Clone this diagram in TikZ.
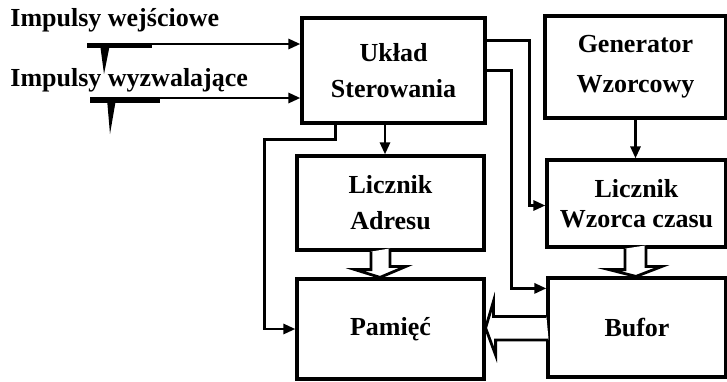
\documentclass[tikz,border=0pt]{standalone}
\usepackage{fontspec}
\setmainfont{Liberation Serif}
\usetikzlibrary{arrows.meta,positioning,calc}

\begin{document}
\begin{tikzpicture}[
    x=0.5pt, y=-0.5pt,
    blok/.style={rectangle, draw, line width=1.6pt, align=center,
                 font=\fontsize{13}{18}\selectfont\bfseries},
    arr/.style={-{Triangle[length=6pt, width=5pt]}, line width=1.4pt},
    hollow/.style={line width=1.4pt, fill=white},
    lbl/.style={anchor=west, inner sep=0pt, font=\fontsize{13}{15}\selectfont\bfseries}
]
\useasboundingbox (0,0) rectangle (727,381);

% Main blocks
\node[blok, minimum width=91.5pt, minimum height=52.5pt] (ster) at (393.5,70.5) {Układ\\Sterowania};
\node[blok, minimum width=90.5pt, minimum height=51pt] (gen) at (635.5,67) {Generator\\[2pt]Wzorcowy};
\node[blok, minimum width=93.5pt, minimum height=47pt] (adr) at (390.5,203) {Licznik\\Adresu};
\node[blok, minimum width=89.5pt, minimum height=43.5pt] (lwc) at (636.5,203.5) {Licznik\\[-3pt]Wzorca czasu};
\node[blok, minimum width=93.5pt, minimum height=50pt] (pam) at (390.5,329) {Pamięć};
\node[blok, minimum width=89pt, minimum height=49.5pt] (buf) at (637,327.5) {Bufor};

% Input labels
\node[lbl] (wej) at (10,20) {Impulsy wejściowe};
\node[lbl] (wyz) at (10,80) {Impulsy wyzwalające};
\coordinate (inA) at (87,44);
\coordinate (inB) at (90,98);

% Pulses
\draw[line width=2pt] (87,46) -- (152,46);
\fill (100,44) -- (110,44) -- (104,74) -- cycle;
\draw[line width=2pt] (90,101) -- (160,101);
\fill (107,99) -- (116,99) -- (110,134) -- cycle;

% Arrows
\coordinate (s1) at ($(ster.south)+(-8.5,0)$);
\coordinate (s2) at ($(ster.south west)+(35,0)$);
\coordinate (s3) at ($(ster.north east)+(0,24)$);
\draw[arr] (inA) -- (inA -| ster.west);
\draw[arr] (inB) -- (inB -| ster.west);
\draw[arr] (s1) -- (s1 |- adr.north);
\draw[arr] (s2) -- ++(0,15) -- ++(-71,0) |- (pam.west);
\draw[arr] (s3) -- ++(43,0) |- ($(lwc.west)+(0,2)$);
\draw[arr] (ster.east) -- ++(25,0) |- ($(buf.north west)+(0,12)$);
\draw[arr] (gen.south) -- (gen.south |- lwc.north);

% Data paths
\draw[hollow] ($(adr.south)+(-19.5,0)$) -- ++(0,18) -- ++(-16,0)
    -- ($(pam.north)+(-10.5,0)$) -- ++(26,-11) -- ++(-16,0) -- ++(0,-18);
\draw[hollow] ($(lwc.south)+(-11.5,0)$) -- ++(0,21) -- ++(-16,0)
    -- ($(buf.north)+(-1,0)$) -- ++(26,-10) -- ++(-16,0) -- ++(0,-21);
\draw[hollow] ($(buf.west)+(0,-11)$) -- ++(-53,0) -- ++(0,-15)
    -- ($(pam.east)+(0,-1)$) -- ++(10,27) -- ++(0,-15) -- ++(53,0);
\end{tikzpicture}
\end{document}
